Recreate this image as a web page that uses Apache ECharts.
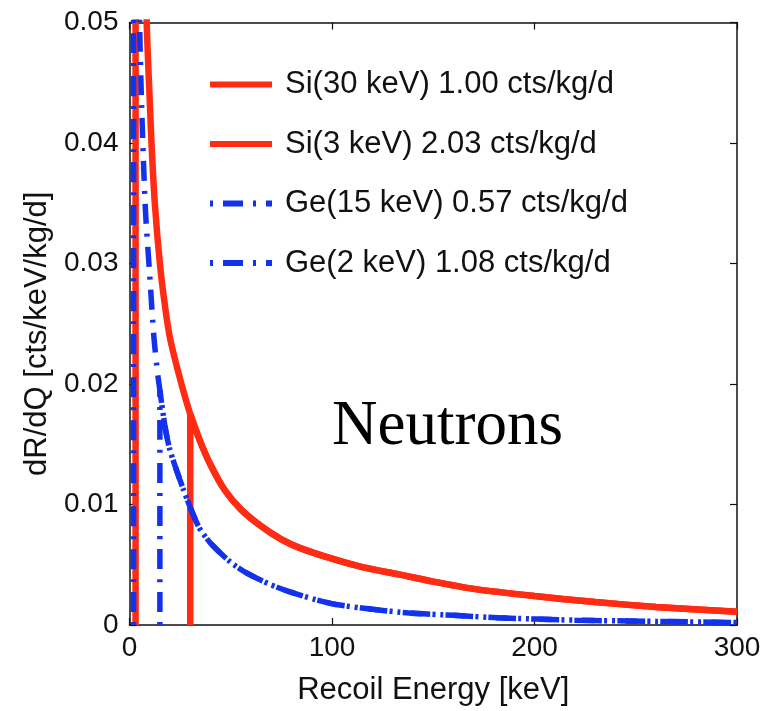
<!DOCTYPE html>
<html>
<head>
<meta charset="utf-8">
<script src="https://cdn.jsdelivr.net/npm/echarts@6/dist/echarts.min.js"></script>
<style>
html,body{margin:0;padding:0;background:#fff;}
#chart{width:771px;height:711px;}
</style>
</head>
<body>
<div id="chart"></div>
<script>
// ---- data ----
const xTicks = [0, 100, 200, 300];
const yTicks = [0, 0.01, 0.02, 0.03, 0.04, 0.05];

// Si neutron recoil spectrum (cts/keV/kg/d) vs recoil energy (keV)
const siEnergy = [3, 5, 8.5, 10, 11, 12.5, 15, 17.5, 20, 25, 30, 35, 40, 47, 55, 65, 75, 84, 100, 115, 133, 150, 170, 200, 230, 260, 300];
const siRate   = [0.15, 0.08, 0.05, 0.0435, 0.0395, 0.0350, 0.0300, 0.0265, 0.0238, 0.0204, 0.0175, 0.0152, 0.0133, 0.0112, 0.0096, 0.0082, 0.0071, 0.0064, 0.0055, 0.0048, 0.0042, 0.0036, 0.0030, 0.0024, 0.0019, 0.0015, 0.0011];

// Ge neutron recoil spectrum
const geEnergy = [2, 4, 5, 6, 7, 8, 10, 12, 14, 15, 17.5, 20, 26.5, 34, 40, 50, 58, 69, 80, 92, 102, 120, 138, 160, 182, 220, 260, 300];
const geRate   = [0.2, 0.07, 0.05, 0.043, 0.038, 0.034, 0.0290, 0.0240, 0.0207, 0.0195, 0.0165, 0.0145, 0.0113, 0.0082, 0.0068, 0.0052, 0.0043, 0.0034, 0.0027, 0.0021, 0.0017, 0.0013, 0.0010, 0.0008, 0.0006, 0.0004, 0.0003, 0.0002];

const seriesNames = ['Si(30 keV) 1.00 cts/kg/d', 'Si(3 keV) 2.03 cts/kg/d', 'Ge(15 keV) 0.57 cts/kg/d', 'Ge(2 keV) 1.08 cts/kg/d'];
const thresholds  = [30, 3, 15, 2];
const material    = ['Si', 'Si', 'Ge', 'Ge'];

const RED = '#ff2b12';
const BLUE = '#1232ee';
const FONT = "'Liberation Sans', Arial, Helvetica, sans-serif";
const DASHDOT = [20, 10, 3, 10];

function thresholdData(E, R, t) {
  const pts = [[t, 0]];
  for (let i = 0; i < E.length; i++) if (E[i] >= t) pts.push([E[i], R[i]]);
  return pts;
}

const series = seriesNames.map((name, i) => {
  const isSi = material[i] === 'Si';
  const data = isSi ? thresholdData(siEnergy, siRate, thresholds[i]) : thresholdData(geEnergy, geRate, thresholds[i]);
  return {
    name: name,
    type: 'line',
    data: data,
    showSymbol: false,
    symbol: 'none',
    smooth: 0.25,
    clip: true,
    lineStyle: isSi
      ? { color: RED, width: 6.5, type: 'solid' }
      : { color: BLUE, width: 5.5, type: DASHDOT, dashOffset: 30, cap: 'butt' },
    itemStyle: { color: isSi ? RED : BLUE },
    z: isSi ? 2 : 3
  };
});

const chart = echarts.init(document.getElementById('chart'));
chart.setOption({
  animation: false,
  backgroundColor: '#fff',
  grid: { left: 129.5, right: 34, top: 22.5, bottom: 83 },
  legend: {
    orient: 'vertical',
    left: 202,
    top: 64,
    itemWidth: 62,
    itemHeight: 14,
    itemGap: 28.5,
    data: seriesNames,
    itemStyle: { opacity: 0 },
    lineStyle: { width: 6 },
    textStyle: { fontFamily: FONT, fontSize: 31, color: '#111', lineHeight: 31, padding: [0, 0, 0, 8] },
    selectedMode: false
  },
  xAxis: [{
    type: 'value', min: 0, max: 300, interval: 100,
    name: 'Recoil Energy [keV]', nameLocation: 'middle', nameGap: 50,
    nameTextStyle: { fontFamily: FONT, fontSize: 31, color: '#111' },
    axisLine: { show: true, onZero: false, lineStyle: { color: '#111', width: 1.5 } },
    axisTick: { show: true, inside: true, length: 7, lineStyle: { color: '#111', width: 1.2 } },
    axisLabel: { fontFamily: FONT, fontSize: 28, color: '#111', margin: 9,
      customValues: xTicks, formatter: v => String(v) },
    splitLine: { show: false }
  }, {
    type: 'value', position: 'top', min: 0, max: 300, interval: 100,
    axisLine: { show: true, onZero: false, lineStyle: { color: '#111', width: 1.5 } },
    axisTick: { show: true, inside: true, length: 7, lineStyle: { color: '#111', width: 1.2 } },
    axisLabel: { show: false }, splitLine: { show: false }
  }],
  yAxis: [{
    type: 'value', min: 0, max: 0.05, interval: 0.01,
    name: 'dR/dQ [cts/keV/kg/d]', nameLocation: 'middle', nameGap: 76, nameRotate: 90,
    nameTextStyle: { fontFamily: FONT, fontSize: 31, color: '#111', padding: [0, 20, 0, 0] },
    axisLine: { show: true, onZero: false, lineStyle: { color: '#111', width: 1.5 } },
    axisTick: { show: true, inside: true, length: 7, lineStyle: { color: '#111', width: 1.2 } },
    axisLabel: { fontFamily: FONT, fontSize: 28, color: '#111', margin: 11,
      formatter: v => { const t = yTicks.find(y => Math.abs(y - v) < 1e-9); return t === 0 ? '0' : (t !== undefined ? t.toFixed(2) : ''); } },
    splitLine: { show: false }
  }, {
    type: 'value', position: 'right', min: 0, max: 0.05, interval: 0.01,
    axisLine: { show: true, onZero: false, lineStyle: { color: '#111', width: 1.5 } },
    axisTick: { show: true, inside: true, length: 7, lineStyle: { color: '#111', width: 1.2 } },
    axisLabel: { show: false }, splitLine: { show: false }
  }],
  graphic: [{
    type: 'text',
    left: 332,
    top: 396,
    style: { text: 'Neutrons', fontFamily: "'Liberation Serif', 'Times New Roman', serif", fontSize: 63, fill: '#000' }
  }],
  series: series
});
</script>
</body>
</html>
